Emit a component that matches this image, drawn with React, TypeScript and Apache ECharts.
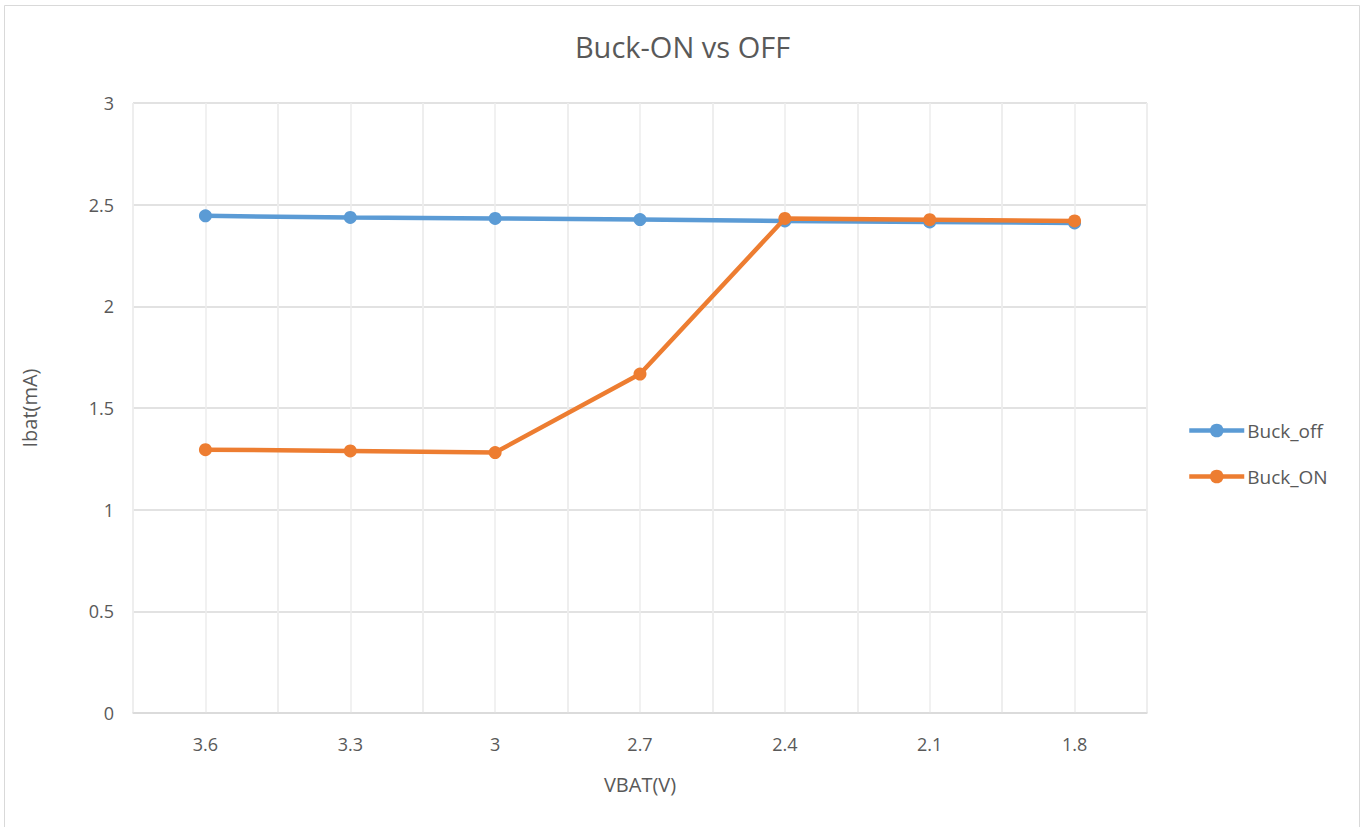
import React, { useEffect, useRef } from "react";
import * as echarts from "echarts";

const categories = ["3.6", "3.3", "3", "2.7", "2.4", "2.1", "1.8"];
const buckOff = [2.445, 2.437, 2.432, 2.427, 2.42, 2.415, 2.41];
const buckOn = [1.295, 1.289, 1.281, 1.667, 2.432, 2.426, 2.42];
const yTicks = { min: 0, max: 3, interval: 0.5 };
const titleText = "Buck-ON vs OFF";
const xName = "VBAT(V)";
const yName = "Ibat(mA)";

const FONT = "'Open Sans', 'Noto Sans', sans-serif";
const GRAY = "#595959";

export default function App() {
  const ref = useRef<HTMLDivElement>(null);
  useEffect(() => {
    if (!ref.current) return;
    const chart = echarts.init(ref.current, null, { renderer: "svg" });
    const minorCats = categories.flatMap((c) => [c + "a", c + "b"]);
    chart.setOption({
      animation: false,
      backgroundColor: "#fff",
      textStyle: { fontFamily: FONT },
      title: {
        text: titleText,
        left: "center",
        top: 27,
        textStyle: { fontFamily: FONT, fontSize: 29, fontWeight: "normal", color: GRAY },
      },
      graphic: [
        {
          type: "rect",
          shape: { x: 4.5, y: 5.5, width: 1355, height: 830 },
          style: { fill: "none", stroke: "#D9D9D9", lineWidth: 1 },
          silent: true,
        },
      ],
      legend: {
        orient: "vertical",
        left: 1187,
        top: 421,
        padding: 0,
        itemWidth: 55,
        itemHeight: 17,
        itemGap: 27,
        lineStyle: { width: 4.5 },
        textStyle: { fontFamily: FONT, fontSize: 19, color: GRAY, padding: [0, 0, 0, -2] },
        data: ["Buck_off", "Buck_ON"],
      },
      grid: { left: 133, right: 218, top: 103, bottom: 114, containLabel: false },
      xAxis: [
        {
          type: "category",
          data: categories,
          boundaryGap: true,
          name: xName,
          nameLocation: "middle",
          nameGap: 61,
          nameTextStyle: { fontFamily: FONT, fontSize: 20, color: GRAY },
          axisLine: { lineStyle: { color: "#D9D9D9", width: 1.5 } },
          axisTick: { show: false },
          axisLabel: { margin: 22, fontSize: 18, color: GRAY, fontFamily: FONT },
          splitLine: { show: true, lineStyle: { color: "#EDEDED", width: 1.5 } },
          z: 1,
        },
        {
          type: "category",
          data: minorCats,
          boundaryGap: true,
          position: "bottom",
          show: true,
          axisLine: { show: false },
          axisTick: { show: false },
          axisLabel: { show: false },
          splitLine: { show: true, lineStyle: { color: "#EDEDED", width: 1.5 } },
        },
      ],
      yAxis: {
        type: "value",
        min: yTicks.min,
        max: yTicks.max,
        interval: yTicks.interval,
        name: yName,
        nameLocation: "middle",
        nameGap: 94,
        nameTextStyle: { fontFamily: FONT, fontSize: 20, color: GRAY },
        axisLine: { show: false },
        axisTick: { show: false },
        axisLabel: { margin: 19, fontSize: 18, color: GRAY, fontFamily: FONT },
        splitLine: { show: true, lineStyle: { color: "#D9D9D9", width: 1.5 } },
      },
      series: [
        {
          name: "Buck_off",
          type: "line",
          data: buckOff,
          xAxisIndex: 0,
          symbol: "circle",
          symbolSize: 13,
          lineStyle: { width: 4.5, color: "#5B9BD5" },
          itemStyle: { color: "#5B9BD5" },
          z: 3,
        },
        {
          name: "Buck_ON",
          type: "line",
          data: buckOn,
          xAxisIndex: 0,
          symbol: "circle",
          symbolSize: 13,
          lineStyle: { width: 4.5, color: "#ED7D31" },
          itemStyle: { color: "#ED7D31" },
          z: 4,
        },
      ],
    });
    return () => chart.dispose();
  }, []);
  return (
    <div
      ref={ref}
      style={{ position: "fixed", left: 0, top: 0, width: 1365, height: 827 }}
    />
  );
}
